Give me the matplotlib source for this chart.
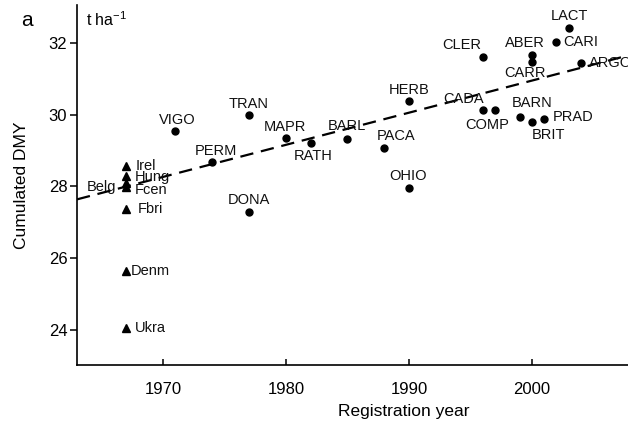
import numpy as np
import matplotlib
matplotlib.use("Agg")
import matplotlib.pyplot as plt

plt.rcParams['font.family'] = ['Liberation Sans', 'DejaVu Sans']
plt.rcParams['mathtext.fontset'] = 'custom'
plt.rcParams['mathtext.rm'] = 'Liberation Sans'
plt.rcParams['mathtext.default'] = 'rm'

# check populations (triangles), all plotted at 1967
check_names = ['Irel', 'Hung', 'Fcen', 'Belg', 'Fbri', 'Denm', 'Ukra']
check_year = [1967, 1967, 1967, 1967, 1967, 1967, 1967]
check_dmy = [28.58, 28.30, 28.10, 27.98, 27.36, 25.64, 24.05]

# registered cultivars (dots)
cv_names = ['VIGO', 'PERM', 'TRAN', 'DONA', 'MAPR', 'RATH', 'BARL', 'PACA',
            'HERB', 'OHIO', 'CLER', 'CADA', 'COMP', 'BARN', 'BRIT', 'PRAD',
            'ABER', 'CARR', 'CARI', 'LACT', 'ARGO']
cv_year = [1971, 1974, 1977, 1977, 1980, 1982, 1985, 1988,
           1990, 1990, 1996, 1996, 1997, 1999, 2000, 2001,
           2000, 2000, 2002, 2003, 2004]
cv_dmy = [29.53, 28.69, 30.00, 27.30, 29.36, 29.22, 29.33, 29.08,
          30.39, 27.97, 31.61, 30.14, 30.14, 29.94, 29.78, 29.89,
          31.67, 31.47, 32.03, 32.42, 31.44]

# dashed trend line
trend_years = [1963, 2008]
trend_dmy = [27.64, 31.66]

# label placement: (dx, dy in pixels, horizontal alignment)
lab_pos = {
    'Irel': (9, 0, 'left'), 'Hung': (9, -1, 'left'), 'Fcen': (9, -7, 'left'),
    'Belg': (-10, 0, 'right'), 'Fbri': (12, 0, 'left'), 'Denm': (5, 0, 'left'),
    'Ukra': (9, 0, 'left'),
    'VIGO': (2, 11, 'center'), 'PERM': (4, 11, 'center'), 'TRAN': (0, 11, 'center'),
    'DONA': (0, 12, 'center'), 'MAPR': (-1, 11, 'center'), 'RATH': (3, -13, 'center'),
    'BARL': (-1, 13, 'center'), 'PACA': (12, 12, 'center'), 'HERB': (0, 11, 'center'),
    'OHIO': (-1, 12, 'center'), 'CLER': (-21, 12, 'center'), 'CADA': (-19, 11, 'center'),
    'COMP': (-8, -15, 'center'), 'BARN': (13, 14, 'center'), 'BRIT': (17, -13, 'center'),
    'PRAD': (9, 2, 'left'), 'ABER': (-7, 12, 'center'), 'CARR': (-7, -11, 'center'),
    'CARI': (7, 0, 'left'), 'LACT': (1, 12, 'center'), 'ARGO': (8, 0, 'left'),
}

fig = plt.figure(figsize=(6.28, 4.28), dpi=100)
ax = fig.add_axes([77 / 628, 63 / 428, (731 - 77) / 628, 360 / 428])

ax.plot(trend_years, trend_dmy, color='black', lw=1.6, ls=(0, (6, 3.5)), zorder=1)
ax.plot(check_year, check_dmy, '^', color='black', ms=5.5, ls='none', zorder=3)
ax.plot(cv_year, cv_dmy, 'o', color='black', ms=5, ls='none', zorder=3)

for n, x, y in list(zip(check_names, check_year, check_dmy)) + list(zip(cv_names, cv_year, cv_dmy)):
    dx, dy, ha = lab_pos[n]
    ax.annotate(n, (x, y), xytext=(dx, dy), textcoords='offset pixels',
                ha=ha, va='center', fontsize=10.5, color='#111111', zorder=4)

ax.set_xlim(1963.0, 2016.2)
ax.set_ylim(23.03, 33.05)
ax.set_xticks([1970, 1980, 1990, 2000])
ax.set_yticks([24, 26, 28, 30, 32])
ax.spines['top'].set_visible(False)
ax.spines['right'].set_visible(False)
for s in ['left', 'bottom']:
    ax.spines[s].set_linewidth(1.2)
ax.tick_params(axis='y', direction='out', length=5, width=1.1, labelsize=12, pad=2)
ax.tick_params(axis='x', direction='in', length=4, width=1.1, labelsize=12, pad=12)

ax.set_xlabel('Registration year', fontsize=12.5, labelpad=5)
ax.set_ylabel('Cumulated DMY', fontsize=12.5, labelpad=14)

fig.text(27 / 628, 1 - 20 / 428, 'a', fontsize=15, ha='center', va='center')
fig.text(86 / 628, 1 - 20 / 428, 't ha$^{-1}$', fontsize=11.5, ha='left', va='center')

fig.savefig('out.png', dpi=100)
